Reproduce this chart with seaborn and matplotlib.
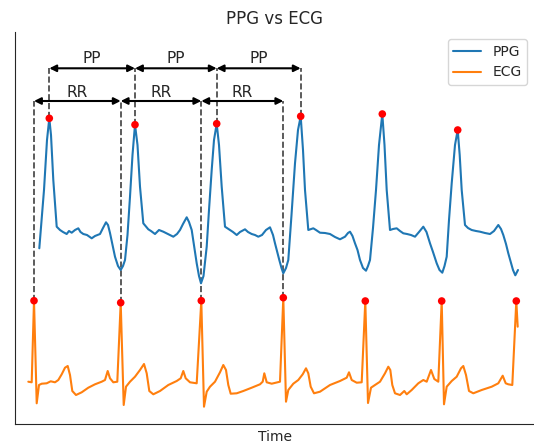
"""
PPG vs ECG -- peak timing comparison (PP and RR intervals)
"""

import matplotlib
matplotlib.use("Agg")  # no display
import matplotlib.pyplot as plt
import seaborn as sns

# --- PPG trace (time in samples, amplitude in a.u.) ---
ppg_t = [
    24.3, 27, 29, 32, 34.3, 36, 38.3, 41.7, 45, 48, 51.7, 54, 56.7, 60, 63.3, 65.5,
    68.3, 72, 76.7, 80, 85, 88, 91, 93, 95, 97.5, 100, 103, 105.7, 108, 110, 112.5,
    115, 117.5, 120, 122.5, 125, 128.3, 133.3, 136, 140, 144, 148.3, 153, 158.3, 162,
    165, 168, 171.7, 174, 176.7, 179, 181.7, 184, 186, 188.5, 191.7, 194, 196.7, 199,
    201.7, 204, 206.7, 210, 215, 218, 221.7, 225, 230, 233, 236.7, 240, 243.3, 247,
    251, 255, 258, 260, 264.3, 266.5, 268.3, 271, 273.3, 276.5, 280, 283, 285.7, 288,
    290, 293.3, 298.3, 301, 305, 310, 315, 320, 325, 330, 333, 335, 337.5, 340, 342.5,
    345, 348, 351, 353, 355, 358, 361, 364, 367.3, 369.5, 371.7, 375, 378, 381.7, 385,
    388.3, 392, 396, 400, 404, 408.3, 411.5, 415, 418, 421.7, 424.5, 427.3, 429.5,
    431.7, 434, 436.7, 440, 442.7, 444.7, 446.7, 450, 453, 456.7, 461, 465, 470, 475,
    479, 483.3, 486, 488.3, 491, 493.3, 496, 498, 500.3, 503,
]
ppg_amp = [
    175.7, 209, 234, 284, 305.7, 289, 244, 197.3, 194, 192, 190, 193, 191.3, 194, 195.7, 192,
    190, 189, 185.7, 188, 190, 196, 201.7, 199, 191, 179, 167.3, 158, 154, 158, 164, 189,
    227.3, 269, 299.3, 279, 237.3, 200.7, 194.7, 193, 190, 194, 192.3, 190, 187.3, 190,
    194, 200, 206.7, 202, 194, 179, 160.7, 148, 140.7, 148, 177.3, 214, 254, 284,
    300.3, 279, 237.3, 197.3, 194, 192, 189, 192, 194.7, 192, 190, 189, 187.3, 189,
    194, 196.7, 189, 180.7, 164, 156, 150.7, 156, 164, 209, 260.7, 294, 307.7, 274,
    234, 194, 195.7, 194, 191.3, 191, 190, 187, 184.7, 187.3, 191, 192.3, 188, 180.7, 174,
    164, 156, 153.3, 158, 164, 196, 234, 279, 310, 279, 234, 194, 195, 195.7, 193,
    190.7, 190, 189, 187.3, 192, 197.3, 192, 180.7, 172, 160.7, 154, 151.3, 158,
    167.3, 204, 240.7, 279, 294, 269, 234, 199, 196, 194, 193, 192.3, 191, 190,
    193, 199, 195, 189, 180, 170.7, 161, 154, 148.7, 154,
]

# --- ECG trace ---
ecg_t = [
    13.3, 16.7, 19, 21.7, 24, 26.7, 31.7, 35.7, 40, 43.3, 46.7, 50, 52.7, 55, 57.3, 61,
    66.7, 73.3, 80, 86.7, 90, 92.7, 95, 98.3, 102.3, 105.7, 108.7, 111, 115, 120, 125,
    129, 131.7, 134.3, 138.3, 145, 153.3, 161.7, 165.7, 168.3, 170.7, 175, 181.7, 186.3,
    189, 191.7, 195, 200, 205, 208.3, 211, 213.3, 215.7, 221.7, 228.3, 236.7, 245, 247.7,
    249.3, 251.7, 256.7, 265, 268.3, 271, 273.3, 278.3, 283.3, 287.7, 291, 293.3, 295.7,
    299, 305, 315, 325, 331.7, 334, 336.7, 341.7, 346.7, 350.3, 353, 356, 360, 365, 370,
    373.3, 375.3, 377.3, 380, 385, 389.3, 391.7, 396.7, 403.3, 408.3, 411.7, 416, 419.3,
    423.3, 426.7, 429, 431.7, 436.7, 441.7, 446, 448.3, 451, 454, 458.3, 466.7, 476.7,
    483.3, 487.7, 490.7, 493.3, 497.3, 501.3, 502.7,
]
ecg_amp = [
    42.3, 41.7, 123.3, 20.7, 39, 40.3, 40.7, 42.7, 41.7, 44, 49.7, 56.3, 58, 49, 33, 29,
    31.7, 36.3, 39.7, 42.3, 44, 53, 45.7, 41.7, 42.3, 121.3, 19, 37.3, 42.3, 47.3, 54,
    60, 50.7, 33, 29.7, 33, 39, 43, 45.7, 53, 45.7, 41.7, 40.7, 123.3,
    17.3, 32.3, 37.3, 42.3, 51.7, 59, 54, 39, 30.3, 30.7, 33, 36.3, 39.7, 42.3,
    50.7, 41.7, 40.3, 42.3, 126.3, 22.3, 34, 40.3, 44, 49.7, 55.7, 50.7, 37.3,
    30.7, 32.3, 39, 43, 46.3, 51.7, 44, 41.3, 41.7, 123, 21, 36.3, 39, 42.3, 50.7,
    57.3, 54, 39, 30.7, 29, 33, 29.7, 34, 40.7, 44, 42.3, 54, 45,
    42.3, 123, 19.7, 37.3, 43, 47.3, 55.7, 58, 49, 33, 30.7, 34, 37.3,
    40.7, 48.3, 40.7, 39.7, 39, 123, 97.3,
]

# annotation levels (same units as amplitude)
RR_LEVEL = 323
PP_LEVEL = 355.7
N_MARKED = 4  # beats with interval annotations


def find_peaks(amp, min_height):
    """Simple local-maximum peak finder."""
    idx = []
    for i in range(1, len(amp) - 1):
        if amp[i] > min_height and amp[i] >= amp[i - 1] and amp[i] >= amp[i + 1]:
            idx.append(i)
    return idx


def main():
    sns.set_style("white")
    fig, ax = plt.subplots(figsize=(5.34, 4.43), dpi=100)
    fig.subplots_adjust(left=15 / 534, right=1.0, bottom=19 / 443, top=1 - 32 / 443)

    sns.lineplot(x=ppg_t, y=ppg_amp, ax=ax, label="PPG", color="#1f77b4", lw=1.5)
    sns.lineplot(x=ecg_t, y=ecg_amp, ax=ax, label="ECG", color="#ff7f0e", lw=1.5)

    ppg_pk = find_peaks(ppg_amp, 250)
    ecg_pk = find_peaks(ecg_amp, 100)
    ppg_pk_t = [ppg_t[i] for i in ppg_pk]
    ecg_pk_t = [ecg_t[i] for i in ecg_pk]

    sns.scatterplot(x=ppg_pk_t, y=[ppg_amp[i] for i in ppg_pk], ax=ax,
                    color="red", s=30, edgecolor="none", zorder=5, legend=False)
    sns.scatterplot(x=ecg_pk_t, y=[ecg_amp[i] for i in ecg_pk], ax=ax,
                    color="red", s=30, edgecolor="none", zorder=5, legend=False)

    # --- dashed guides ---
    for i in ecg_pk[:N_MARKED]:
        ax.plot([ecg_t[i], ecg_t[i]], [ecg_amp[i], RR_LEVEL], ls="--", color="k",
                alpha=0.75, lw=1.2, zorder=1)
    for i in ppg_pk[:N_MARKED]:
        ax.plot([ppg_t[i], ppg_t[i]], [ppg_amp[i], PP_LEVEL], ls="--", color="k",
                alpha=0.75, lw=1.2, zorder=1)

    # --- interval arrows ---
    arrow = dict(arrowstyle="<|-|>", color="k", lw=1.5, shrinkA=0, shrinkB=0)
    for a, b in zip(ecg_pk_t[:N_MARKED - 1], ecg_pk_t[1:N_MARKED]):
        ax.annotate("", xy=(b, RR_LEVEL), xytext=(a, RR_LEVEL), arrowprops=arrow)
        ax.text((a + b) / 2, RR_LEVEL + 9, "RR", ha="center", va="center", fontsize=11)
    for a, b in zip(ppg_pk_t[:N_MARKED - 1], ppg_pk_t[1:N_MARKED]):
        ax.annotate("", xy=(b, PP_LEVEL), xytext=(a, PP_LEVEL), arrowprops=arrow)
        ax.text((a + b) / 2, PP_LEVEL + 10, "PP", ha="center", va="center", fontsize=11)

    ax.set_xlim(0, 519)
    ax.set_ylim(0, 392)
    ax.set_xticks([])
    ax.set_yticks([])
    ax.set_title("PPG vs ECG", fontsize=12)
    ax.set_xlabel("Time")
    ax.legend(loc="upper right")
    sns.despine()

    fig.savefig("out.png", dpi=100)
    plt.close(fig)


if __name__ == "__main__":
    main()
